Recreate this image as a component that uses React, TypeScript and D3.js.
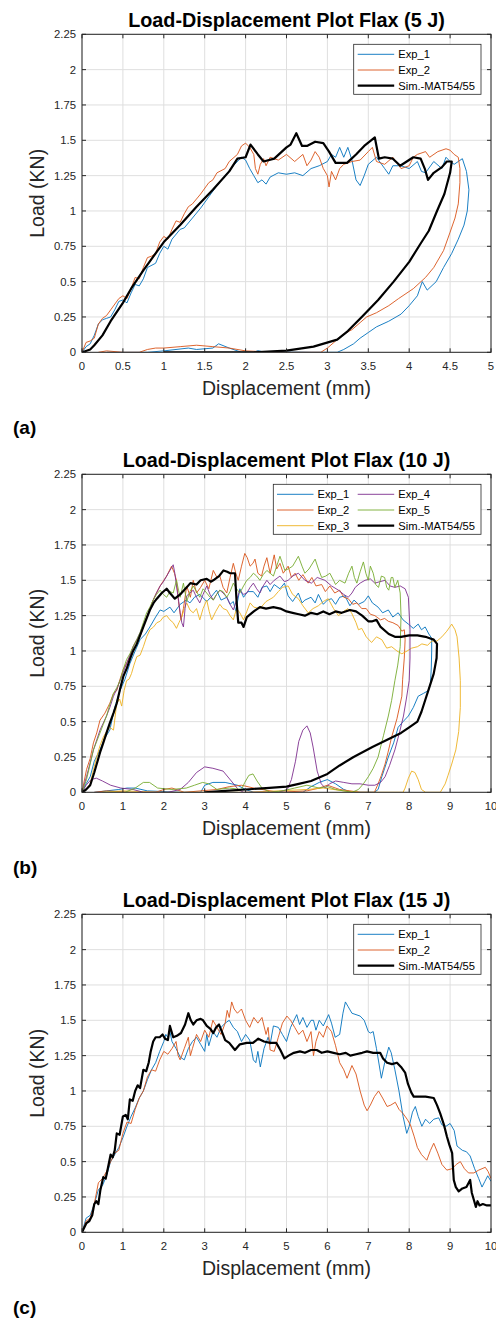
import * as d3 from 'd3';

type Pt = [number, number];

const FONT = '"Liberation Sans", Arial, Helvetica, sans-serif';
const PANEL_STEP = 440;
const PLOT = { left: 82, right: 491, top: 34.3, bottom: 352.3 };

// panel text
const panelTitles = [
    'Load-Displacement Plot Flax (5 J)',
    'Load-Displacement Plot Flax (10 J)',
    'Load-Displacement Plot Flax (15 J)',
];
const panelLabels = ['(a)', '(b)', '(c)'];
const xMaxes = [5, 10, 10];
const xTicksA = [0, 0.5, 1, 1.5, 2, 2.5, 3, 3.5, 4, 4.5, 5];
const xTicksB = [0, 1, 2, 3, 4, 5, 6, 7, 8, 9, 10];
const yTicks = [0, 0.25, 0.5, 0.75, 1, 1.25, 1.5, 1.75, 2, 2.25];
const xLabel = 'Displacement (mm)';
const yLabel = 'Load (KN)';

const expNames = ['Exp_1', 'Exp_2', 'Exp_3', 'Exp_4', 'Exp_5'];
const simName = 'Sim.-MAT54/55';
const expColors = ['#0072BD', '#D95319', '#EDB120', '#7E2F8E', '#77AC30'];

// ---------- panel (a) 5 J ----------
const a_exp1: Pt[] = [
    [0, 0], [0.05, 0.04], [0.1, 0.06], [0.15, 0.12], [0.2, 0.2], [0.25, 0.23], [0.3, 0.24], [0.35, 0.25], [0.4, 0.3],
    [0.45, 0.36], [0.5, 0.37], [0.55, 0.35], [0.6, 0.42], [0.65, 0.48], [0.7, 0.47], [0.75, 0.52], [0.8, 0.6],
    [0.9, 0.63], [0.95, 0.7], [1.0, 0.75], [1.05, 0.73], [1.1, 0.8], [1.2, 0.87], [1.25, 0.88], [1.35, 0.95],
    [1.45, 1.02], [1.55, 1.1], [1.65, 1.18], [1.75, 1.25], [1.85, 1.32], [1.95, 1.38], [2.0, 1.36], [2.05, 1.3],
    [2.1, 1.25], [2.15, 1.2], [2.2, 1.22], [2.25, 1.19], [2.3, 1.24], [2.4, 1.27], [2.5, 1.26], [2.6, 1.27],
    [2.7, 1.25], [2.8, 1.3], [2.9, 1.32], [3.0, 1.35], [3.05, 1.4], [3.1, 1.38], [3.15, 1.45], [3.2, 1.38],
    [3.25, 1.45], [3.3, 1.36], [3.35, 1.22], [3.4, 1.18], [3.45, 1.25], [3.5, 1.33], [3.6, 1.38], [3.7, 1.3],
    [3.75, 1.26], [3.8, 1.32], [3.9, 1.32], [4.0, 1.3], [4.1, 1.35], [4.15, 1.28], [4.2, 1.27], [4.3, 1.35],
    [4.4, 1.3], [4.45, 1.38], [4.5, 1.35], [4.55, 1.33], [4.6, 1.35], [4.65, 1.37], [4.7, 1.28], [4.73, 1.15],
    [4.71, 1.0], [4.67, 0.9], [4.6, 0.8], [4.52, 0.7], [4.42, 0.6], [4.33, 0.5], [4.22, 0.44], [4.16, 0.5],
    [4.1, 0.4], [4.0, 0.33], [3.9, 0.27], [3.75, 0.22], [3.6, 0.18], [3.5, 0.14], [3.4, 0.1], [3.32, 0.06],
    [3.2, 0.02], [3.12, 0], [2.8, 0], [2.2, 0.005], [2.15, 0.012], [2.1, 0], [1.95, 0], [1.8, 0.03], [1.67, 0.06],
    [1.6, 0.03], [1.4, 0.02], [1.3, 0.03], [1.0, 0.01], [0.8, 0], [0.3, 0],
];
const a_exp2: Pt[] = [
    [0, 0], [0.05, 0.07], [0.1, 0.08], [0.15, 0.1], [0.2, 0.2], [0.25, 0.24], [0.3, 0.26], [0.35, 0.3], [0.45, 0.38],
    [0.5, 0.4], [0.55, 0.38], [0.6, 0.45], [0.65, 0.53], [0.7, 0.52], [0.75, 0.6], [0.8, 0.67], [0.85, 0.68],
    [0.9, 0.7], [0.95, 0.78], [1.0, 0.82], [1.05, 0.8], [1.1, 0.87], [1.15, 0.93], [1.2, 0.92], [1.25, 0.98],
    [1.3, 1.03], [1.35, 1.05], [1.45, 1.12], [1.55, 1.2], [1.6, 1.22], [1.65, 1.27], [1.75, 1.3], [1.8, 1.35],
    [1.9, 1.4], [1.95, 1.46], [2.0, 1.48], [2.05, 1.45], [2.1, 1.4], [2.12, 1.3], [2.15, 1.26], [2.18, 1.33],
    [2.22, 1.37], [2.25, 1.32], [2.3, 1.38], [2.4, 1.36], [2.5, 1.4], [2.6, 1.35], [2.7, 1.4], [2.75, 1.32],
    [2.8, 1.36], [2.85, 1.42], [2.9, 1.38], [2.95, 1.3], [3.0, 1.25], [3.02, 1.17], [3.05, 1.28], [3.1, 1.22],
    [3.15, 1.3], [3.2, 1.33], [3.3, 1.35], [3.4, 1.36], [3.5, 1.42], [3.55, 1.45], [3.6, 1.35], [3.7, 1.33],
    [3.8, 1.38], [3.9, 1.3], [4.0, 1.32], [4.05, 1.38], [4.1, 1.4], [4.2, 1.42], [4.25, 1.38], [4.35, 1.42],
    [4.45, 1.44], [4.5, 1.43], [4.55, 1.4], [4.6, 1.38], [4.62, 1.3], [4.62, 1.2], [4.6, 1.05], [4.56, 0.95],
    [4.5, 0.85], [4.42, 0.72], [4.3, 0.6], [4.2, 0.53], [4.05, 0.45], [3.87, 0.38], [3.75, 0.33], [3.6, 0.28],
    [3.48, 0.25], [3.4, 0.21], [3.3, 0.16], [3.2, 0.13], [3.1, 0.08], [3.0, 0.03], [2.92, 0], [2.4, 0],
    [2.0, 0.01], [1.8, 0.03], [1.6, 0.04], [1.4, 0.05], [1.2, 0.04], [1.0, 0.03], [0.9, 0.03], [0.8, 0.02],
    [0.7, 0], [0.5, 0], [0.3, 0.01], [0.2, 0],
];
const a_sim: Pt[] = [
    [0, 0], [0.1, 0.02], [0.15, 0.05], [0.25, 0.12], [0.35, 0.22], [0.5, 0.35], [0.6, 0.45], [0.75, 0.58],
    [0.9, 0.7], [1.0, 0.78], [1.2, 0.9], [1.4, 1.03], [1.6, 1.15], [1.8, 1.28], [1.9, 1.37], [2.0, 1.38],
    [2.06, 1.47], [2.15, 1.4], [2.22, 1.35], [2.35, 1.37], [2.5, 1.45], [2.55, 1.47], [2.62, 1.55], [2.69, 1.46],
    [2.75, 1.46], [2.85, 1.49], [2.95, 1.48], [3.02, 1.42], [3.1, 1.34], [3.24, 1.34], [3.35, 1.4], [3.45, 1.46],
    [3.58, 1.52], [3.63, 1.37], [3.7, 1.38], [3.8, 1.37], [3.89, 1.32], [4.05, 1.38], [4.14, 1.37], [4.19, 1.3],
    [4.23, 1.22], [4.3, 1.27], [4.4, 1.31], [4.46, 1.35], [4.52, 1.35], [4.5, 1.27], [4.43, 1.12], [4.34, 1.0],
    [4.24, 0.86], [4.14, 0.77], [4.0, 0.64], [3.81, 0.5], [3.62, 0.37], [3.42, 0.25], [3.25, 0.15], [3.12, 0.09],
    [2.83, 0.04], [2.5, 0.012], [2.1, 0], [1.0, 0],
];

// ---------- panel (b) 10 J ----------
const b_exp1: Pt[] = [
    [0, 0], [0.1, 0.06], [0.2, 0.11], [0.3, 0.22], [0.44, 0.3], [0.55, 0.38], [0.68, 0.44], [0.8, 0.6],
    [0.93, 0.72], [1.05, 0.8], [1.17, 0.91], [1.3, 1.0], [1.42, 1.08], [1.55, 1.12], [1.66, 1.17], [1.8, 1.24],
    [1.91, 1.29], [2.0, 1.28], [2.15, 1.31], [2.25, 1.27], [2.4, 1.33], [2.55, 1.36], [2.64, 1.34], [2.75, 1.38],
    [2.88, 1.4], [3.05, 1.35], [3.15, 1.38], [3.29, 1.43], [3.4, 1.36], [3.54, 1.38], [3.62, 1.33], [3.7, 1.35],
    [3.76, 1.28], [3.86, 1.44], [3.95, 1.38], [4.05, 1.42], [4.19, 1.42], [4.3, 1.38], [4.4, 1.45], [4.52, 1.46],
    [4.6, 1.42], [4.7, 1.47], [4.84, 1.44], [4.95, 1.48], [5.04, 1.39], [5.15, 1.35], [5.29, 1.41], [5.38, 1.34],
    [5.45, 1.36], [5.6, 1.38], [5.7, 1.34], [5.78, 1.4], [5.9, 1.33], [6.0, 1.36], [6.1, 1.37], [6.2, 1.33],
    [6.3, 1.38], [6.43, 1.39], [6.55, 1.32], [6.65, 1.36], [6.76, 1.33], [6.9, 1.35], [7.0, 1.39], [7.1, 1.34],
    [7.24, 1.31], [7.35, 1.27], [7.49, 1.29], [7.6, 1.24], [7.73, 1.27], [7.85, 1.22], [7.98, 1.19], [8.1, 1.16],
    [8.22, 1.19], [8.3, 1.15], [8.39, 1.17], [8.48, 1.12], [8.55, 1.09], [8.55, 1.0], [8.54, 0.88],
    [8.52, 0.77], [8.47, 0.72], [8.35, 0.7], [8.22, 0.68], [8.1, 0.6], [7.98, 0.54], [7.85, 0.5], [7.73, 0.46],
    [7.62, 0.35], [7.49, 0.25], [7.4, 0.17], [7.33, 0.11], [7.24, 0.02], [7.15, 0], [6.9, 0], [6.6, 0],
    [6.4, 0.02], [6.2, 0.06], [6.0, 0.09], [5.8, 0.07], [5.6, 0.04], [5.4, 0], [4.2, 0], [4.0, 0.02],
    [3.8, 0.05], [3.5, 0.07], [3.2, 0.07], [3.0, 0.05], [2.9, 0], [2.4, 0], [1.6, 0.01], [1.3, 0.03],
    [1.1, 0.03], [0.9, 0.02], [0.6, 0.01], [0.3, 0],
];
const b_exp2: Pt[] = [
    [0, 0], [0.11, 0.16], [0.2, 0.24], [0.28, 0.35], [0.36, 0.42], [0.44, 0.51], [0.56, 0.56], [0.68, 0.63],
    [0.77, 0.7], [0.85, 0.72], [0.93, 0.8], [1.01, 0.87], [1.1, 0.92], [1.17, 0.96], [1.25, 1.03], [1.34, 1.08],
    [1.42, 1.1], [1.5, 1.17], [1.58, 1.24], [1.66, 1.3], [1.74, 1.36], [1.82, 1.41], [1.91, 1.46], [2.0, 1.5],
    [2.07, 1.53], [2.19, 1.6], [2.26, 1.55], [2.31, 1.5], [2.36, 1.35], [2.42, 1.22], [2.48, 1.3], [2.56, 1.46],
    [2.65, 1.38], [2.72, 1.5], [2.8, 1.41], [2.9, 1.45], [3.0, 1.5], [3.1, 1.44], [3.21, 1.57], [3.3, 1.52],
    [3.37, 1.53], [3.45, 1.45], [3.54, 1.41], [3.62, 1.52], [3.7, 1.62], [3.76, 1.55], [3.82, 1.5], [3.9, 1.6],
    [3.98, 1.69], [4.04, 1.66], [4.11, 1.6], [4.18, 1.62], [4.23, 1.65], [4.3, 1.55], [4.39, 1.53], [4.45, 1.6],
    [4.52, 1.66], [4.6, 1.55], [4.7, 1.68], [4.76, 1.58], [4.84, 1.62], [4.92, 1.55], [5.04, 1.6], [5.12, 1.52],
    [5.21, 1.55], [5.3, 1.5], [5.4, 1.54], [5.53, 1.48], [5.62, 1.52], [5.72, 1.46], [5.86, 1.47], [5.95, 1.42],
    [6.06, 1.46], [6.18, 1.41], [6.3, 1.43], [6.4, 1.38], [6.51, 1.37], [6.62, 1.33], [6.72, 1.34], [6.84, 1.3],
    [6.95, 1.3], [7.05, 1.26], [7.16, 1.25], [7.3, 1.22], [7.4, 1.23], [7.49, 1.21], [7.6, 1.2], [7.73, 1.18],
    [7.82, 1.14], [7.88, 1.15], [7.9, 1.08], [7.88, 0.95], [7.84, 0.8], [7.82, 0.68], [7.7, 0.52], [7.57, 0.39],
    [7.48, 0.28], [7.41, 0.2], [7.32, 0.12], [7.24, 0.06], [7.15, 0], [6.8, 0], [6.3, 0.02], [6.0, 0.05],
    [5.8, 0.03], [5.5, 0.01], [4.8, 0], [4.2, 0.03], [3.9, 0.05], [3.6, 0.04], [3.3, 0.02], [2.5, 0], [2.2, 0.03],
    [2.0, 0.02], [1.8, 0], [1.2, 0], [0.6, 0.01], [0.3, 0],
];
const b_exp3: Pt[] = [
    [0, 0], [0.1, 0.02], [0.2, 0.06], [0.28, 0.16], [0.36, 0.25], [0.44, 0.33], [0.52, 0.39], [0.6, 0.43],
    [0.68, 0.46], [0.77, 0.44], [0.85, 0.63], [0.92, 0.66], [0.97, 0.61], [1.03, 0.72], [1.09, 0.79],
    [1.15, 0.8], [1.21, 0.84], [1.27, 0.9], [1.34, 0.96], [1.42, 0.97], [1.5, 1.03], [1.58, 1.1], [1.66, 1.15],
    [1.75, 1.17], [1.83, 1.2], [1.91, 1.21], [1.99, 1.24], [2.07, 1.25], [2.15, 1.22], [2.23, 1.2],
    [2.31, 1.16], [2.37, 1.2], [2.44, 1.24], [2.5, 1.3], [2.56, 1.34], [2.64, 1.29], [2.72, 1.27],
    [2.8, 1.3], [2.88, 1.22], [2.96, 1.3], [3.05, 1.36], [3.11, 1.28], [3.17, 1.22], [3.27, 1.28], [3.37, 1.33],
    [3.45, 1.3], [3.54, 1.29], [3.62, 1.25], [3.7, 1.22], [3.78, 1.3], [3.86, 1.27], [3.95, 1.22], [4.03, 1.28],
    [4.11, 1.34], [4.2, 1.31], [4.35, 1.3], [4.5, 1.35], [4.68, 1.38], [4.8, 1.42], [4.9, 1.45], [5.04, 1.46],
    [5.15, 1.4], [5.29, 1.37], [5.4, 1.32], [5.53, 1.27], [5.65, 1.3], [5.78, 1.32], [5.9, 1.35], [6.02, 1.37],
    [6.15, 1.3], [6.27, 1.25], [6.4, 1.28], [6.5, 1.3], [6.59, 1.27], [6.7, 1.2], [6.76, 1.15], [6.84, 1.16],
    [6.95, 1.1], [7.08, 1.06], [7.2, 1.1], [7.33, 1.08], [7.45, 1.02], [7.57, 1.03], [7.7, 1.0], [7.82, 0.98],
    [7.95, 1.0], [8.06, 1.02], [8.2, 1.03], [8.31, 1.05], [8.45, 1.04], [8.55, 1.07], [8.68, 1.07], [8.8, 1.1],
    [8.92, 1.14], [9.04, 1.19], [9.12, 1.15], [9.17, 1.1], [9.22, 0.95], [9.25, 0.79], [9.25, 0.6],
    [9.21, 0.43], [9.14, 0.3], [9.04, 0.2], [8.95, 0.12], [8.88, 0.06], [8.76, 0], [8.4, 0], [8.3, 0.02],
    [8.22, 0.09], [8.14, 0.14], [8.06, 0.15], [7.98, 0.1], [7.9, 0.03], [7.85, 0], [6.8, 0], [6.4, 0.01],
    [5.9, 0.03], [5.5, 0.02], [4.8, 0.01], [4.0, 0], [2.0, 0], [1.0, 0.01], [0.5, 0],
];
const b_exp4: Pt[] = [
    [0, 0], [0.11, 0.11], [0.2, 0.21], [0.28, 0.3], [0.36, 0.37], [0.44, 0.44], [0.52, 0.49], [0.6, 0.54],
    [0.68, 0.6], [0.77, 0.68], [0.85, 0.73], [0.93, 0.79], [1.01, 0.85], [1.09, 0.91], [1.17, 0.97],
    [1.25, 1.03], [1.34, 1.08], [1.42, 1.13], [1.5, 1.19], [1.58, 1.24], [1.66, 1.3], [1.74, 1.36],
    [1.82, 1.41], [1.91, 1.46], [1.99, 1.49], [2.07, 1.53], [2.15, 1.57], [2.23, 1.61], [2.27, 1.55],
    [2.31, 1.46], [2.36, 1.36], [2.4, 1.27], [2.44, 1.2], [2.48, 1.17], [2.52, 1.3], [2.56, 1.39],
    [2.64, 1.41], [2.72, 1.43], [2.8, 1.38], [2.88, 1.34], [2.96, 1.4], [3.05, 1.46], [3.13, 1.4], [3.21, 1.36],
    [3.29, 1.4], [3.37, 1.43], [3.45, 1.41], [3.54, 1.38], [3.62, 1.33], [3.7, 1.29], [3.78, 1.36],
    [3.86, 1.43], [3.95, 1.4], [4.03, 1.41], [4.11, 1.45], [4.19, 1.48], [4.27, 1.44], [4.35, 1.41],
    [4.43, 1.46], [4.52, 1.5], [4.6, 1.47], [4.7, 1.5], [4.84, 1.53], [4.95, 1.49], [5.04, 1.5], [5.15, 1.53],
    [5.29, 1.55], [5.45, 1.5], [5.61, 1.48], [5.75, 1.52], [5.94, 1.5], [6.1, 1.46], [6.27, 1.43], [6.4, 1.4],
    [6.51, 1.38], [6.6, 1.41], [6.68, 1.45], [6.8, 1.48], [6.92, 1.5], [7.05, 1.51], [7.16, 1.48],
    [7.28, 1.49], [7.41, 1.5], [7.53, 1.46], [7.65, 1.45], [7.78, 1.46], [7.9, 1.44], [7.98, 1.38],
    [8.02, 1.15], [8.02, 0.95], [8.0, 0.79], [7.93, 0.66], [7.86, 0.54], [7.76, 0.42], [7.65, 0.3],
    [7.52, 0.19], [7.41, 0.11], [7.3, 0.07], [7.16, 0.05], [7.0, 0.05], [6.8, 0.06], [6.6, 0.06], [6.4, 0.07],
    [6.2, 0.08], [6.05, 0.06], [5.95, 0.03], [5.85, 0.06], [5.75, 0.15], [5.65, 0.32], [5.58, 0.42],
    [5.5, 0.47], [5.4, 0.44], [5.3, 0.36], [5.22, 0.22], [5.12, 0.09], [5.02, 0.02], [4.8, 0], [3.95, 0],
    [3.82, 0.02], [3.65, 0.08], [3.45, 0.15], [3.2, 0.17], [3.0, 0.18], [2.8, 0.14], [2.6, 0.07],
    [2.4, 0.02], [2.1, 0], [1.5, 0], [1.25, 0.02], [0.95, 0.03], [0.7, 0.05], [0.5, 0.08], [0.35, 0.1],
    [0.22, 0.09], [0.1, 0.05], [0, 0],
];
const b_exp5: Pt[] = [
    [0, 0], [0.11, 0.09], [0.2, 0.2], [0.28, 0.3], [0.36, 0.36], [0.44, 0.42], [0.52, 0.48], [0.6, 0.54],
    [0.68, 0.62], [0.77, 0.7], [0.85, 0.74], [0.93, 0.79], [1.01, 0.87], [1.09, 0.94], [1.17, 0.98],
    [1.25, 1.03], [1.34, 1.08], [1.42, 1.13], [1.5, 1.2], [1.58, 1.27], [1.66, 1.31], [1.74, 1.36],
    [1.82, 1.4], [1.91, 1.43], [1.99, 1.4], [2.07, 1.38], [2.15, 1.42], [2.23, 1.41], [2.31, 1.5],
    [2.36, 1.43], [2.4, 1.38], [2.48, 1.48], [2.56, 1.35], [2.64, 1.42], [2.72, 1.46], [2.8, 1.42],
    [2.88, 1.38], [2.96, 1.44], [3.05, 1.41], [3.13, 1.38], [3.21, 1.36], [3.29, 1.4], [3.37, 1.43],
    [3.45, 1.42], [3.54, 1.38], [3.62, 1.42], [3.7, 1.48], [3.78, 1.44], [3.86, 1.41], [3.95, 1.46],
    [4.03, 1.5], [4.11, 1.52], [4.19, 1.55], [4.27, 1.53], [4.35, 1.5], [4.43, 1.54], [4.52, 1.57],
    [4.6, 1.55], [4.68, 1.53], [4.76, 1.6], [4.84, 1.67], [4.9, 1.62], [4.96, 1.57], [5.04, 1.58],
    [5.15, 1.6], [5.29, 1.67], [5.38, 1.6], [5.45, 1.55], [5.55, 1.58], [5.7, 1.65], [5.78, 1.58],
    [5.86, 1.52], [5.96, 1.53], [6.06, 1.55], [6.15, 1.5], [6.2, 1.47], [6.3, 1.5], [6.43, 1.48],
    [6.52, 1.55], [6.6, 1.6], [6.66, 1.52], [6.72, 1.48], [6.8, 1.56], [6.88, 1.63], [6.94, 1.55],
    [7.0, 1.5], [7.05, 1.6], [7.12, 1.55], [7.18, 1.47], [7.25, 1.45], [7.32, 1.53], [7.4, 1.52],
    [7.45, 1.45], [7.5, 1.43], [7.56, 1.52], [7.6, 1.52], [7.65, 1.45], [7.72, 1.5], [7.78, 1.41],
    [7.8, 1.25], [7.78, 1.03], [7.72, 0.9], [7.65, 0.79], [7.57, 0.65], [7.49, 0.54], [7.37, 0.4],
    [7.24, 0.25], [7.12, 0.17], [7.0, 0.11], [6.88, 0.06], [6.76, 0.02], [6.6, 0], [6.2, 0.02],
    [6.0, 0.04], [5.8, 0.03], [5.5, 0.05], [5.2, 0.03], [4.9, 0.01], [4.6, 0], [4.4, 0.03], [4.28, 0.08],
    [4.18, 0.13], [4.08, 0.12], [3.98, 0.07], [3.9, 0.02], [3.6, 0.03], [3.3, 0.02], [3.1, 0.06],
    [2.95, 0.07], [2.75, 0.05], [2.55, 0.03], [2.2, 0.02], [1.85, 0.03], [1.65, 0.07], [1.5, 0.07],
    [1.3, 0.03], [1.05, 0], [0.5, 0],
];
const b_sim: Pt[] = [
    [0, 0], [0.1, 0.02], [0.2, 0.05], [0.3, 0.14], [0.36, 0.2], [0.45, 0.29], [0.52, 0.35], [0.6, 0.42],
    [0.68, 0.49], [0.77, 0.56], [0.85, 0.63], [0.93, 0.73], [1.01, 0.82], [1.1, 0.88], [1.17, 0.94],
    [1.25, 1.0], [1.34, 1.05], [1.42, 1.11], [1.5, 1.17], [1.58, 1.23], [1.66, 1.29], [1.75, 1.34],
    [1.83, 1.37], [1.95, 1.41], [2.07, 1.44], [2.15, 1.41], [2.27, 1.37], [2.4, 1.4], [2.56, 1.45],
    [2.65, 1.48], [2.8, 1.47], [2.9, 1.5], [3.05, 1.51], [3.15, 1.49], [3.21, 1.5], [3.35, 1.53],
    [3.46, 1.57], [3.55, 1.56], [3.62, 1.55], [3.74, 1.55], [3.78, 1.35], [3.82, 1.2], [3.9, 1.2],
    [3.95, 1.17], [4.03, 1.24], [4.2, 1.28], [4.35, 1.31], [4.5, 1.3], [4.68, 1.31], [4.85, 1.3],
    [5.0, 1.28], [5.15, 1.27], [5.3, 1.26], [5.45, 1.25], [5.6, 1.27], [5.75, 1.26], [5.9, 1.28],
    [6.05, 1.26], [6.2, 1.28], [6.35, 1.27], [6.55, 1.29], [6.7, 1.28], [6.85, 1.25], [7.0, 1.21],
    [7.1, 1.21], [7.2, 1.22], [7.3, 1.17], [7.5, 1.12], [7.65, 1.1], [7.8, 1.1], [8.0, 1.11], [8.2, 1.11],
    [8.4, 1.1], [8.5, 1.09], [8.6, 1.08], [8.68, 1.05], [8.67, 0.95], [8.6, 0.84], [8.5, 0.75],
    [8.4, 0.66], [8.3, 0.57], [8.2, 0.5], [8.0, 0.46], [7.8, 0.42], [7.45, 0.37], [7.1, 0.32],
    [6.64, 0.25], [6.3, 0.19], [6.0, 0.13], [5.6, 0.08], [5.3, 0.06], [5.0, 0.04], [4.5, 0.03],
    [4.0, 0.02], [3.5, 0.01], [3.0, 0],
];

// ---------- panel (c) 15 J ----------
const c_exp1: Pt[] = [
    [0, 0], [0.1, 0.1], [0.2, 0.12], [0.3, 0.2], [0.4, 0.3], [0.5, 0.33], [0.6, 0.4], [0.7, 0.5],
    [0.8, 0.55], [0.9, 0.6], [1.0, 0.67], [1.1, 0.75], [1.2, 0.82], [1.3, 0.88], [1.4, 0.95], [1.5, 1.0],
    [1.6, 1.08], [1.7, 1.15], [1.8, 1.2], [1.9, 1.28], [2.0, 1.35], [2.05, 1.4], [2.1, 1.38], [2.15, 1.42],
    [2.2, 1.35], [2.3, 1.3], [2.4, 1.24], [2.5, 1.22], [2.6, 1.3], [2.7, 1.35], [2.8, 1.38], [2.9, 1.33],
    [3.0, 1.28], [3.05, 1.4], [3.1, 1.32], [3.2, 1.42], [3.3, 1.38], [3.4, 1.45], [3.5, 1.48], [3.6, 1.5],
    [3.7, 1.45], [3.8, 1.42], [3.9, 1.35], [4.0, 1.4], [4.1, 1.36], [4.19, 1.22], [4.25, 1.2], [4.3, 1.28],
    [4.36, 1.17], [4.45, 1.3], [4.55, 1.38], [4.6, 1.33], [4.68, 1.46], [4.8, 1.45], [4.9, 1.4], [5.0, 1.35],
    [5.1, 1.45], [5.25, 1.54], [5.32, 1.47], [5.4, 1.52], [5.5, 1.45], [5.6, 1.5], [5.66, 1.5], [5.72, 1.43],
    [5.8, 1.5], [5.9, 1.46], [6.03, 1.54], [6.1, 1.48], [6.19, 1.38], [6.3, 1.4], [6.38, 1.55], [6.44, 1.63],
    [6.5, 1.6], [6.6, 1.55], [6.8, 1.53], [6.9, 1.5], [7.0, 1.42], [7.05, 1.41], [7.12, 1.42], [7.2, 1.3],
    [7.32, 1.09], [7.4, 1.2], [7.5, 1.31], [7.56, 1.27], [7.65, 1.15], [7.75, 1.0], [7.85, 0.82],
    [7.94, 0.7], [8.0, 0.75], [8.08, 0.85], [8.15, 0.89], [8.22, 0.82], [8.31, 0.75], [8.4, 0.8],
    [8.5, 0.77], [8.6, 0.8], [8.72, 0.81], [8.8, 0.76], [8.9, 0.75], [9.0, 0.77], [9.1, 0.72],
    [9.17, 0.61], [9.3, 0.58], [9.4, 0.57], [9.49, 0.54], [9.6, 0.45], [9.7, 0.38], [9.78, 0.32],
    [9.85, 0.36], [9.92, 0.4], [10, 0.36],
];
const c_exp2: Pt[] = [
    [0, 0], [0.1, 0.08], [0.2, 0.1], [0.3, 0.2], [0.4, 0.35], [0.5, 0.38], [0.6, 0.43], [0.7, 0.5],
    [0.8, 0.56], [0.9, 0.58], [1.0, 0.7], [1.1, 0.78], [1.2, 0.77], [1.3, 0.87], [1.4, 0.95], [1.5, 1.0],
    [1.6, 1.1], [1.7, 1.15], [1.8, 1.14], [1.9, 1.22], [2.0, 1.28], [2.1, 1.26], [2.2, 1.3], [2.3, 1.35],
    [2.35, 1.25], [2.4, 1.22], [2.5, 1.3], [2.6, 1.38], [2.65, 1.25], [2.7, 1.3], [2.8, 1.4], [2.9, 1.35],
    [3.0, 1.43], [3.1, 1.38], [3.2, 1.5], [3.3, 1.45], [3.4, 1.4], [3.5, 1.48], [3.55, 1.57], [3.6, 1.52],
    [3.66, 1.63], [3.72, 1.58], [3.8, 1.55], [3.9, 1.58], [4.0, 1.5], [4.1, 1.45], [4.2, 1.52], [4.3, 1.48],
    [4.4, 1.52], [4.5, 1.4], [4.55, 1.45], [4.6, 1.29], [4.7, 1.28], [4.8, 1.38], [4.9, 1.48], [5.01, 1.53],
    [5.1, 1.5], [5.2, 1.45], [5.3, 1.4], [5.4, 1.43], [5.5, 1.35], [5.6, 1.42], [5.66, 1.25], [5.72, 1.35],
    [5.8, 1.42], [5.9, 1.38], [5.99, 1.46], [6.1, 1.42], [6.2, 1.32], [6.3, 1.2], [6.4, 1.15], [6.48, 1.09],
    [6.6, 1.18], [6.7, 1.12], [6.8, 1.0], [6.9, 0.9], [6.97, 0.86], [7.05, 0.9], [7.15, 0.96], [7.25, 1.0],
    [7.35, 0.95], [7.46, 0.89], [7.55, 0.9], [7.66, 0.92], [7.75, 0.87], [7.85, 0.84], [7.95, 0.8],
    [8.03, 0.76], [8.12, 0.68], [8.2, 0.6], [8.3, 0.55], [8.43, 0.51], [8.52, 0.58], [8.6, 0.63],
    [8.7, 0.56], [8.8, 0.48], [8.92, 0.44], [9.05, 0.45], [9.15, 0.48], [9.25, 0.5], [9.35, 0.45],
    [9.45, 0.42], [9.58, 0.42], [9.7, 0.44], [9.86, 0.46], [9.93, 0.43], [10, 0.38],
];
const c_sim: Pt[] = [
    [0, 0], [0.05, 0.03], [0.11, 0.065], [0.18, 0.08], [0.25, 0.12], [0.3, 0.2], [0.35, 0.22], [0.4, 0.2],
    [0.45, 0.3], [0.52, 0.39], [0.58, 0.38], [0.63, 0.45], [0.7, 0.55], [0.75, 0.53], [0.8, 0.58],
    [0.85, 0.7], [0.92, 0.69], [1.0, 0.82], [1.07, 0.83], [1.12, 0.8], [1.17, 0.94], [1.24, 0.93],
    [1.3, 1.0], [1.36, 1.04], [1.42, 1.02], [1.5, 1.15], [1.57, 1.14], [1.63, 1.2], [1.68, 1.28],
    [1.74, 1.35], [1.8, 1.38], [1.9, 1.38], [1.97, 1.4], [2.03, 1.37], [2.1, 1.36], [2.15, 1.46],
    [2.23, 1.38], [2.32, 1.39], [2.42, 1.41], [2.52, 1.47], [2.6, 1.55], [2.66, 1.5], [2.72, 1.47],
    [2.8, 1.5], [2.9, 1.51], [2.96, 1.5], [3.05, 1.46], [3.14, 1.44], [3.21, 1.41], [3.28, 1.45],
    [3.35, 1.47], [3.42, 1.42], [3.5, 1.36], [3.6, 1.34], [3.74, 1.29], [3.86, 1.33], [4.03, 1.34],
    [4.18, 1.34], [4.31, 1.37], [4.45, 1.35], [4.6, 1.34], [4.75, 1.34], [4.85, 1.29], [4.95, 1.23],
    [5.05, 1.25], [5.18, 1.27], [5.33, 1.28], [5.45, 1.27], [5.6, 1.29], [5.74, 1.29], [5.86, 1.27],
    [6.0, 1.28], [6.15, 1.27], [6.3, 1.26], [6.45, 1.27], [6.56, 1.25], [6.7, 1.26], [6.85, 1.27],
    [6.97, 1.28], [7.12, 1.27], [7.29, 1.27], [7.36, 1.23], [7.46, 1.2], [7.58, 1.19], [7.7, 1.2],
    [7.8, 1.17], [7.9, 1.13], [7.97, 1.05], [8.05, 0.99], [8.11, 0.96], [8.25, 0.96], [8.4, 0.96],
    [8.6, 0.95], [8.68, 0.9], [8.76, 0.84], [8.85, 0.76], [8.92, 0.68], [8.98, 0.62], [9.05, 0.56],
    [9.07, 0.46], [9.09, 0.37], [9.14, 0.32], [9.21, 0.29], [9.3, 0.31], [9.4, 0.32], [9.49, 0.37],
    [9.53, 0.28], [9.58, 0.23], [9.63, 0.18], [9.67, 0.22], [9.72, 0.19], [9.8, 0.2], [9.9, 0.19],
    [10, 0.19],
];

const panelExps: Pt[][][] = [
    [a_exp1, a_exp2],
    [b_exp1, b_exp2, b_exp3, b_exp4, b_exp5],
    [c_exp1, c_exp2],
];
const panelSims: Pt[][] = [a_sim, b_sim, c_sim];

type PanelProps = { index: number };

const Panel = ({ index }: PanelProps) => {
    const top = index * PANEL_STEP;
    const xMax = xMaxes[index];
    const xTicks = index === 0 ? xTicksA : xTicksB;
    const exps = panelExps[index];
    const sim = panelSims[index];

    const xScale = d3.scaleLinear().domain([0, xMax]).range([PLOT.left, PLOT.right]);
    const yScale = d3.scaleLinear().domain([0, 2.25]).range([PLOT.bottom, PLOT.top]);
    const line = d3
        .line<Pt>()
        .x((d) => xScale(d[0]))
        .y((d) => yScale(d[1]));

    const clipId = `clip-${index}`;
    const tickLen = 4;
    const axisColor = '#262626';

    // legend layout: one column for 3 entries, two columns for six
    const legendItems = [
        ...exps.map((_, i) => ({ name: expNames[i], color: expColors[i], width: 0.9 })),
        { name: simName, color: '#000', width: 2.2 },
    ];
    const twoCol = legendItems.length > 3;
    const legendBox = twoCol
        ? { x: 273.3, y: 44.3, w: 207.7, h: 50 }
        : { x: 353.7, y: 44.3, w: 127.3, h: 50 };
    const rowY = [54.3, 70, 85.7];

    return (
        <g transform={`translate(0,${top})`}>
            <defs>
                <clipPath id={clipId}>
                    <rect x={PLOT.left} y={PLOT.top} width={PLOT.right - PLOT.left} height={PLOT.bottom - PLOT.top} />
                </clipPath>
            </defs>
            <rect x={PLOT.left} y={PLOT.top} width={PLOT.right - PLOT.left} height={PLOT.bottom - PLOT.top} fill="#fff" />

            {/* grid */}
            {xTicks.map((t) => (
                <line key={`gx${t}`} x1={xScale(t)} x2={xScale(t)} y1={PLOT.top} y2={PLOT.bottom} stroke="#dfdfdf" strokeWidth={1} />
            ))}
            {yTicks.map((t) => (
                <line key={`gy${t}`} x1={PLOT.left} x2={PLOT.right} y1={yScale(t)} y2={yScale(t)} stroke="#dfdfdf" strokeWidth={1} />
            ))}

            {/* curves */}
            <g clipPath={`url(#${clipId})`} fill="none" strokeLinejoin="round">
                {exps.map((s, i) => (
                    <path key={i} d={line(s) ?? ''} stroke={expColors[i]} strokeWidth={0.9} />
                ))}
                <path d={line(sim) ?? ''} stroke="#000" strokeWidth={2.2} />
            </g>

            {/* box + ticks */}
            <rect
                x={PLOT.left}
                y={PLOT.top}
                width={PLOT.right - PLOT.left}
                height={PLOT.bottom - PLOT.top}
                fill="none"
                stroke={axisColor}
                strokeWidth={1}
            />
            {xTicks.map((t) => (
                <g key={`tx${t}`}>
                    <line x1={xScale(t)} x2={xScale(t)} y1={PLOT.bottom} y2={PLOT.bottom - tickLen} stroke={axisColor} />
                    <line x1={xScale(t)} x2={xScale(t)} y1={PLOT.top} y2={PLOT.top + tickLen} stroke={axisColor} />
                    <text
                        x={xScale(t)}
                        y={PLOT.bottom + 17.5}
                        textAnchor="middle"
                        fontSize={11.3}
                        fill={axisColor}
                        fontFamily={FONT}
                    >
                        {String(t)}
                    </text>
                </g>
            ))}
            {yTicks.map((t) => (
                <g key={`ty${t}`}>
                    <line x1={PLOT.left} x2={PLOT.left + tickLen} y1={yScale(t)} y2={yScale(t)} stroke={axisColor} />
                    <line x1={PLOT.right} x2={PLOT.right - tickLen} y1={yScale(t)} y2={yScale(t)} stroke={axisColor} />
                    <text
                        x={PLOT.left - 6}
                        y={yScale(t) + 4}
                        textAnchor="end"
                        fontSize={11.3}
                        fill={axisColor}
                        fontFamily={FONT}
                    >
                        {String(t)}
                    </text>
                </g>
            ))}

            {/* titles */}
            <text
                x={(PLOT.left + PLOT.right) / 2}
                y={27}
                textAnchor="middle"
                fontSize={19.8}
                fontWeight="bold"
                fill="#000"
                fontFamily={FONT}
            >
                {panelTitles[index]}
            </text>
            <text
                x={(PLOT.left + PLOT.right) / 2}
                y={395}
                textAnchor="middle"
                fontSize={19.5}
                fill={axisColor}
                fontFamily={FONT}
            >
                {xLabel}
            </text>
            <text
                transform={`translate(44,${(PLOT.top + PLOT.bottom) / 2}) rotate(-90)`}
                textAnchor="middle"
                fontSize={19.5}
                fill={axisColor}
                fontFamily={FONT}
            >
                {yLabel}
            </text>

            {/* legend */}
            <rect
                x={legendBox.x}
                y={legendBox.y}
                width={legendBox.w}
                height={legendBox.h}
                fill="#fff"
                stroke={axisColor}
                strokeWidth={0.8}
            />
            {legendItems.map((item, i) => {
                const col = twoCol ? Math.floor(i / 3) : 1;
                const row = twoCol ? i % 3 : i;
                const x0 = col === 0 ? 277 : 357.7;
                const y0 = rowY[row];
                return (
                    <g key={item.name}>
                        <line x1={x0} x2={x0 + 36.5} y1={y0} y2={y0} stroke={item.color} strokeWidth={item.width} />
                        <text x={x0 + 40.5} y={y0 + 4} fontSize={11.2} fill="#000" fontFamily={FONT}>
                            {item.name}
                        </text>
                    </g>
                );
            })}

            {/* panel label */}
            <text x={13} y={434} fontSize={19} fontWeight="bold" fill="#000" fontFamily={FONT}>
                {panelLabels[index]}
            </text>
        </g>
    );
};

export default function App() {
    return (
        <svg
            width={496}
            height={1319}
            style={{ position: 'absolute', left: 0, top: 0, background: '#fff' }}
        >
            {[0, 1, 2].map((i) => (
                <Panel key={i} index={i} />
            ))}
        </svg>
    );
}
